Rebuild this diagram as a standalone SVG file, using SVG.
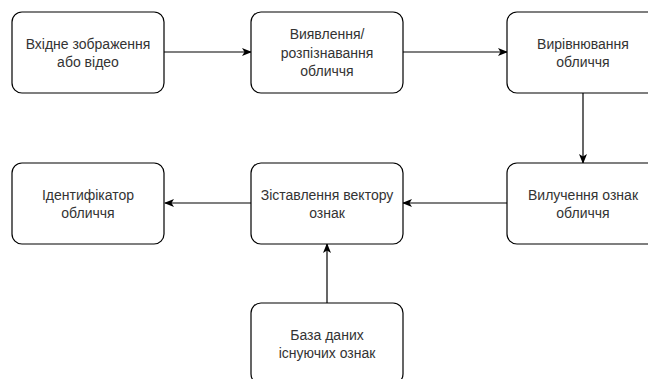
<svg xmlns="http://www.w3.org/2000/svg" width="648" height="379" viewBox="0 0 648 379">
<style>
.box{fill:#fff;stroke:#000;stroke-width:1.2}
.lbl{font-family:"Liberation Sans",Arial,sans-serif;font-size:14px;fill:#333;text-anchor:middle}
.edge{stroke:#000;stroke-width:1.2;fill:none;marker-end:url(#ah)}
</style>
<defs>
<marker id="ah" viewBox="0 0 10 10" refX="9" refY="5" markerWidth="10" markerHeight="10" markerUnits="userSpaceOnUse" orient="auto">
<path d="M0,1 L10,5 L0,9 L2.5,5 Z" fill="#000"/>
</marker>
</defs>
<rect width="648" height="379" fill="#fff"/>
<g id="connectors">
<path class="edge" d="M164,52 L251,52"/>
<path class="edge" d="M403,52 L507,52"/>
<path class="edge" d="M583,93 L583,163"/>
<path class="edge" d="M507,203 L403,203"/>
<path class="edge" d="M251,203 L165,203"/>
<path class="edge" d="M327,303 L327,244"/>
</g>
<g id="n1"><rect class="box" x="12" y="12" width="152" height="81" rx="10"/>
<text class="lbl" x="88" y="49">Вхідне зображення</text><text class="lbl" x="88" y="67">або відео</text></g>
<g id="n2"><rect class="box" x="251" y="12" width="152" height="81" rx="10"/>
<text class="lbl" x="327" y="39">Виявлення/</text><text class="lbl" x="327" y="58">розпізнавання</text><text class="lbl" x="327" y="76">обличчя</text></g>
<g id="n3"><rect class="box" x="507" y="12" width="152" height="81" rx="10"/>
<text class="lbl" x="583" y="49">Вирівнювання</text><text class="lbl" x="583" y="67">обличчя</text></g>
<g id="n4"><rect class="box" x="507" y="163" width="152" height="81" rx="10"/>
<text class="lbl" x="583" y="200">Вилучення ознак</text><text class="lbl" x="583" y="218">обличчя</text></g>
<g id="n5"><rect class="box" x="251" y="163" width="152" height="81" rx="10"/>
<text class="lbl" x="327" y="200">Зіставлення вектору</text><text class="lbl" x="327" y="218">ознак</text></g>
<g id="n6"><rect class="box" x="12" y="163" width="152" height="81" rx="10"/>
<text class="lbl" x="88" y="200">Ідентифікатор</text><text class="lbl" x="88" y="218">обличчя</text></g>
<g id="n7"><rect class="box" x="251" y="303" width="152" height="81" rx="10"/>
<text class="lbl" x="327" y="340">База даних</text><text class="lbl" x="327" y="358">існуючих ознак</text></g>
</svg>
